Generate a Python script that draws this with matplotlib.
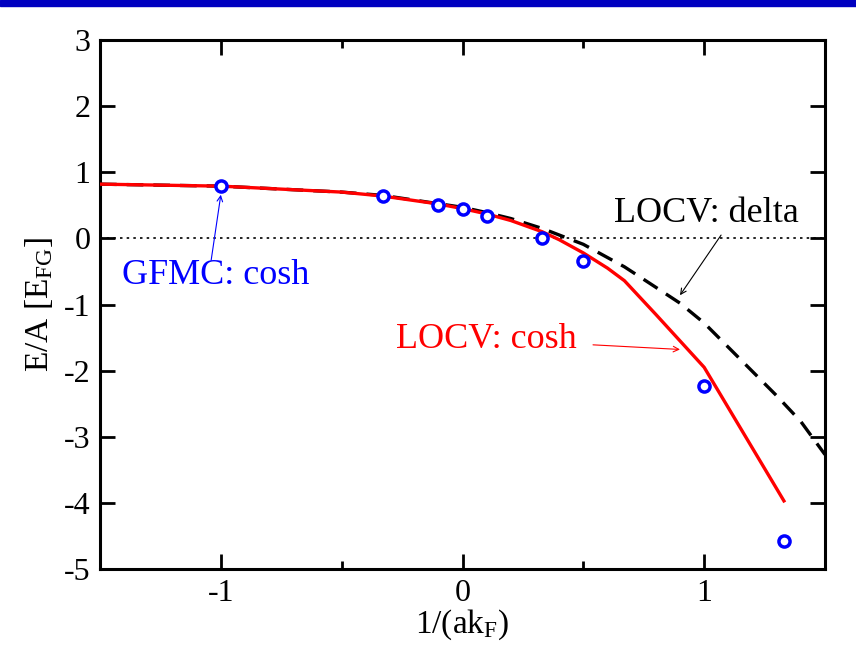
import matplotlib
matplotlib.use("Agg")
import matplotlib.pyplot as plt
from matplotlib.patches import Rectangle

plt.rcParams['font.family'] = ['Liberation Serif', 'DejaVu Serif']
plt.rcParams['mathtext.fontset'] = 'custom'
plt.rcParams['mathtext.rm'] = 'Liberation Serif'
plt.rcParams['mathtext.it'] = 'Liberation Serif:italic'

# GFMC (cosh potential) points
gfmc_x = [-1.0, -0.33, -0.1, 0.0, 0.1, 0.33, 0.5, 1.0, 1.33]
gfmc_y = [0.79, 0.64, 0.51, 0.45, 0.34, 0.01, -0.34, -2.23, -4.57]

# LOCV cosh potential (red solid)
cosh_x = [-1.5, -1.0, -0.5, -0.33, -0.1, 0.0, 0.1, 0.2, 0.33, 0.4, 0.5, 0.6, 0.67, 0.8, 0.9, 1.0, 1.33]
cosh_y = [0.82, 0.79, 0.70, 0.64, 0.52, 0.45, 0.37, 0.27, 0.10, -0.02, -0.22, -0.45, -0.64, -1.15, -1.55, -1.95, -3.97]

# LOCV delta potential (black dashed)
delta_x = [-1.5, -1.0, -0.5, -0.33, 0.0, 0.1, 0.2, 0.33, 0.5, 0.67, 0.8, 0.9, 1.0, 1.15, 1.3, 1.4, 1.5]
delta_y = [0.82, 0.79, 0.70, 0.65, 0.47, 0.39, 0.30, 0.15, -0.09, -0.43, -0.74, -0.98, -1.28, -1.83, -2.38, -2.77, -3.27]

fig = plt.figure(figsize=(8.56, 6.49), dpi=100)
fig.patches.append(Rectangle((0, 1 - 6 / 649), 1, 6 / 649, transform=fig.transFigure,
                             color='#0000c0', zorder=10))
ax = fig.add_axes([100 / 856, 1 - 569 / 649, 725 / 856, 529 / 649])

ax.axhline(0, color='black', lw=1.2, ls=(0, (1.5, 2.5)), zorder=1)
ax.plot(delta_x, delta_y, color='black', lw=2.4, ls=(0, (5, 3)), zorder=2)
ax.plot(cosh_x, cosh_y, color='red', lw=2.4, zorder=3)
ax.plot(gfmc_x, gfmc_y, ls='none', marker='o', ms=8, mfc='white', mec='blue', mew=2.5, zorder=4)

ax.set_xlim(-1.5, 1.5)
ax.set_ylim(-5, 3)
ax.set_xticks([-1, 0, 1])
ax.set_xticks([-0.5, 0.5], minor=True)
ax.set_xticklabels(['-1', '0', '1'])
ax.set_yticks(range(-5, 4))
ax.set_yticklabels([str(v) for v in range(-5, 4)])
ax.tick_params(direction='in', which='major', length=11, width=2, top=True, right=True,
               labelsize=23, pad=7)
ax.tick_params(direction='in', which='minor', length=6, width=2, top=True, right=True)
for s in ax.spines.values():
    s.set_linewidth(2.2)

ax.set_xlabel('1/(ak$_\\mathrm{F}$)', fontsize=24, labelpad=0)
ax.set_ylabel('E/A [E$_\\mathrm{FG}$]', fontsize=24, labelpad=6)

# text labels with thin arrows
ax.text(-1.02, -0.56, 'GFMC: cosh', color='blue', fontsize=26, ha='center', va='center')
ax.annotate('', xy=(-1.0, 0.66), xytext=(-1.04, -0.33),
            arrowprops=dict(arrowstyle='->', color='blue', lw=0.8, shrinkA=0, shrinkB=0))
ax.text(1.01, 0.38, 'LOCV: delta', color='black', fontsize=26, ha='center', va='center')
ax.annotate('', xy=(0.90, -0.86), xytext=(1.07, 0.05),
            arrowprops=dict(arrowstyle='->', color='black', lw=0.8, shrinkA=0, shrinkB=0))
ax.text(0.10, -1.53, 'LOCV: cosh', color='red', fontsize=26, ha='center', va='center')
ax.annotate('', xy=(0.90, -1.68), xytext=(0.54, -1.61),
            arrowprops=dict(arrowstyle='->', color='red', lw=0.8, shrinkA=0, shrinkB=0))

fig.savefig('out.png', dpi=100)
